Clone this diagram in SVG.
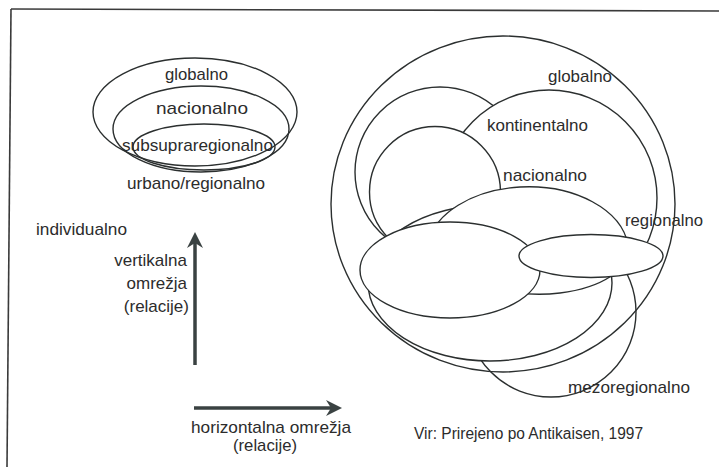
<svg xmlns="http://www.w3.org/2000/svg" width="719" height="467" viewBox="0 0 719 467">
<style>
.ln{fill:none;stroke:#2b2f2f;stroke-width:1.4}
.fl{fill:#fff;stroke:#2b2f2f;stroke-width:1.4}
.t{font-family:"Liberation Sans",Arial,Helvetica,sans-serif;font-size:17px;fill:#2c2c2c}
.ax{stroke:#3a4242;stroke-width:3.5;fill:none}
.ah{fill:#3a4242}
.fr{stroke:#3a3a3a;stroke-width:1.6}
</style>
<rect width="719" height="467" fill="#fff"/>
<g id="frame">
<line class="fr" x1="11" y1="9" x2="719" y2="11"/>
<line class="fr" x1="11" y1="9" x2="7" y2="467"/>
</g>

<!-- left nested ellipses -->
<g id="l-globalno">
<ellipse class="ln" cx="195" cy="112" rx="102" ry="54"/>
<text class="t" x="165" y="80" textLength="63" lengthAdjust="spacingAndGlyphs">globalno</text>
</g>
<g id="l-nacionalno">
<ellipse class="ln" cx="201" cy="129" rx="88" ry="43"/>
<text class="t" x="156" y="114" textLength="92" lengthAdjust="spacingAndGlyphs">nacionalno</text>
</g>
<g id="l-subsupraregionalno">
<ellipse class="ln" cx="204" cy="147" rx="71" ry="23"/>
<text class="t" x="122" y="151" textLength="151" lengthAdjust="spacingAndGlyphs">subsupraregionalno</text>
</g>
<g id="l-urbano">
<text class="t" x="127" y="189" textLength="138" lengthAdjust="spacingAndGlyphs">urbano/regionalno</text>
</g>
<g id="l-individualno">
<text class="t" x="36" y="235" textLength="91" lengthAdjust="spacingAndGlyphs">individualno</text>
</g>

<!-- right nested shapes (white-filled, layered) -->
<g id="r-kontinentalno-left">
<circle class="fl" cx="440" cy="172" r="85"/>
</g>
<g id="r-kontinentalno">
<circle class="fl" cx="549" cy="198" r="108"/>
<text class="t" x="487" y="131" textLength="101" lengthAdjust="spacingAndGlyphs">kontinentalno</text>
</g>
<g id="r-nacionalno-left">
<circle class="fl" cx="435" cy="192" r="65.5"/>
</g>
<g id="r-mezoregionalno">
<circle class="fl" cx="551" cy="312" r="85"/>
<text class="t" x="568" y="393" textLength="122" lengthAdjust="spacingAndGlyphs">mezoregionalno</text>
</g>
<g id="r-regionalno-outer">
<ellipse class="fl" cx="490" cy="283" rx="122" ry="78"/>
</g>
<g id="r-nacionalno">
<path class="fl" d="M430,240 C435,215 470,190 520,187 C575,184 622,210 628,245 C632,270 600,288 560,293 C500,300 425,275 430,240 Z"/>
<text class="t" x="503" y="181" textLength="84" lengthAdjust="spacingAndGlyphs">nacionalno</text>
</g>
<g id="r-regionalno-left">
<ellipse class="fl" cx="450" cy="270" rx="90" ry="48"/>
</g>
<g id="r-regionalno">
<ellipse class="fl" cx="591" cy="256" rx="72" ry="21.5"/>
<text class="t" x="625" y="226" textLength="78" lengthAdjust="spacingAndGlyphs">regionalno</text>
</g>
<g id="r-globalno">
<ellipse class="ln" cx="503" cy="204" rx="172" ry="168"/>
<text class="t" x="548" y="82" textLength="64" lengthAdjust="spacingAndGlyphs">globalno</text>
</g>

<!-- connectors -->
<g id="connectors">
<line class="ax" x1="195" y1="365" x2="195" y2="242"/>
<path class="ah" d="M195,232 L203,248 L195,243 L187,248 Z"/>
<line class="ax" x1="194" y1="408" x2="332" y2="408"/>
<path class="ah" d="M342,408 L326,400 L331,408 L326,416 Z"/>
</g>

<g id="axis-labels">
<text class="t" x="187" y="266" text-anchor="end">vertikalna</text>
<text class="t" x="187" y="289" text-anchor="end">omrežja</text>
<text class="t" x="189" y="312" text-anchor="end">(relacije)</text>
<text class="t" x="191" y="433" textLength="160" lengthAdjust="spacingAndGlyphs">horizontalna omrežja</text>
<text class="t" x="233" y="451" textLength="64" lengthAdjust="spacingAndGlyphs">(relacije)</text>
</g>
<g id="source">
<text class="t" x="414" y="439" textLength="229" lengthAdjust="spacingAndGlyphs" style="font-size:16px">Vir: Prirejeno po Antikaisen, 1997</text>
</g>
</svg>
